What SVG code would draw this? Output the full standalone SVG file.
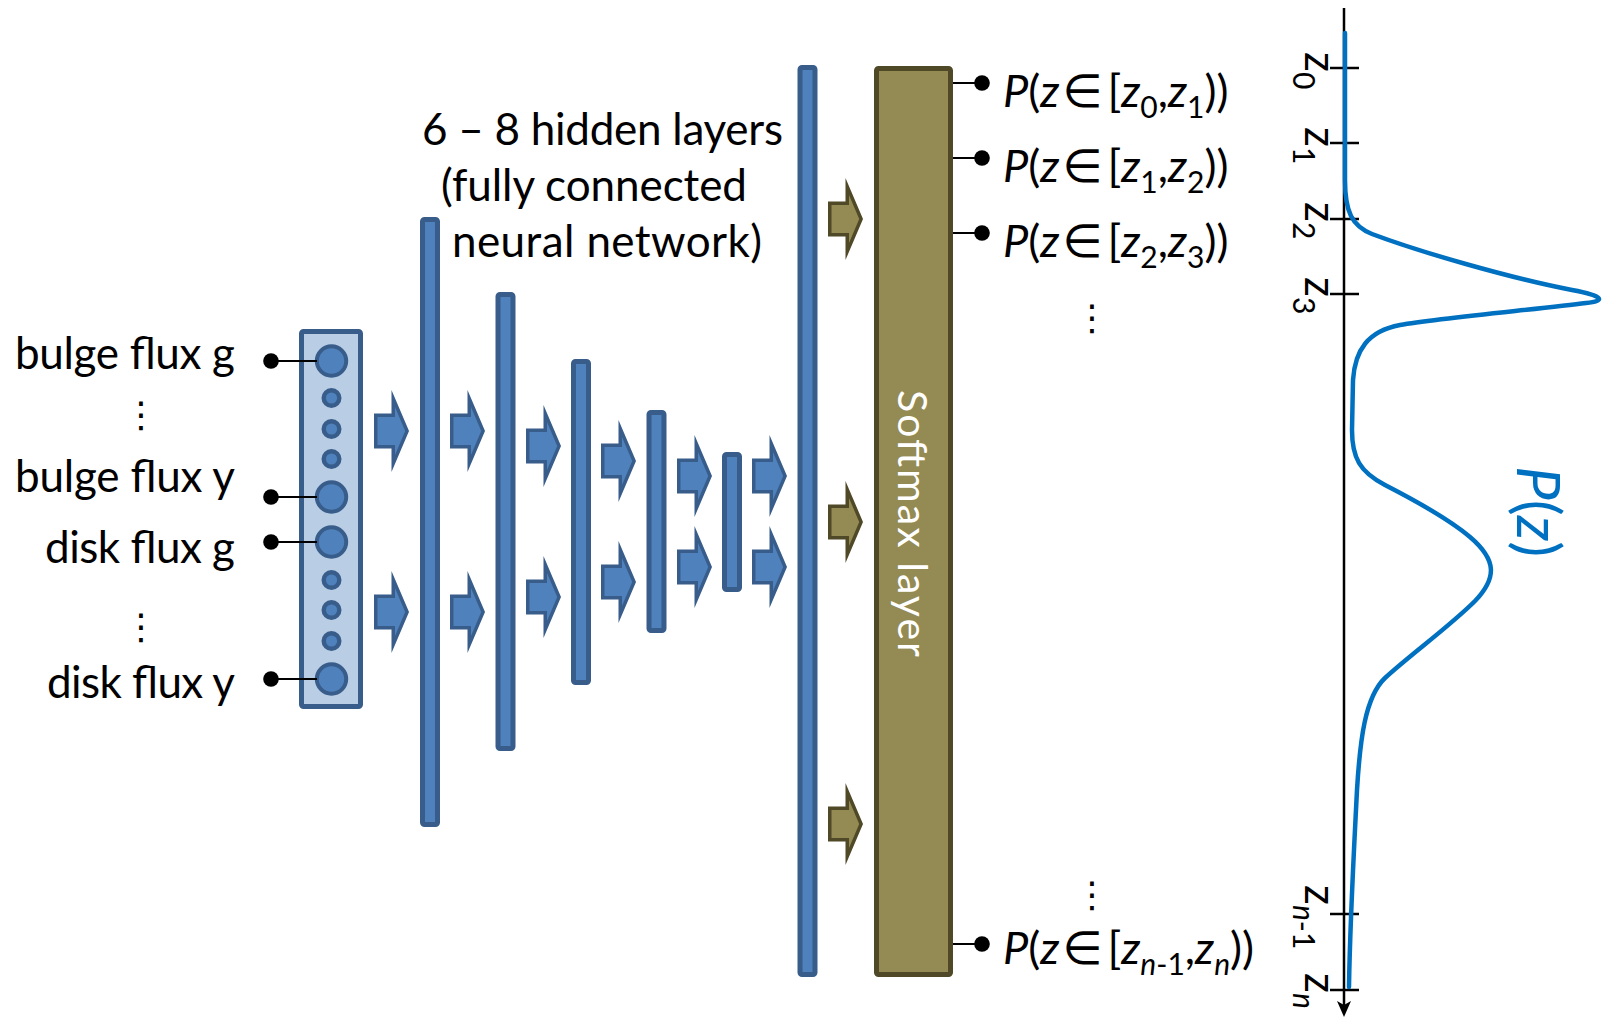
<svg xmlns="http://www.w3.org/2000/svg" width="1602" height="1017" viewBox="0 0 1602 1017">
  <style>
    .txt { font-family: Lato, "Open Sans", "DejaVu Sans", sans-serif; fill: #000; }
    .lbl { font-size: 44px; }
    .out { font-size: 45px; }
    .tick { font-size: 44px; }
    .i { font-style: italic; }
    .sub { font-size: 30px; }
    .sym { font-family: "DejaVu Sans", sans-serif; font-size: 46px; }
    .dots { font-family: "DejaVu Sans", sans-serif; font-size: 36px; text-anchor: middle; font-style: normal; }
    .bar { fill: #4F81BD; stroke: #385D8A; stroke-width: 5; }
    .node { fill: #4F81BD; stroke: #385D8A; stroke-width: 4; }
    .node-s { fill: #4F81BD; stroke: #385D8A; stroke-width: 4.4; }
    .flow-b { color: #385D8A; fill: #4F81BD; }
    .flow-o { color: #4F4928; fill: #948A54; }
    .wire { stroke: #000; stroke-width: 2; fill: none; }
    .axis { stroke: #000; stroke-width: 2.5; fill: none; }
    .pdf { stroke: #0070C0; stroke-width: 4.5; fill: none; stroke-linecap: round; stroke-linejoin: round; }
  </style>
  <defs>
    <!-- block arrow: dark outline shape (currentColor) with the body inset inside it.
         Left edge at x=0, centred on y=0. -->
    <g id="blk">
      <path d="M0,-17.5 H17.5 V-41 L35,0 L17.5,41 V17.5 H0 Z" fill="currentColor"/>
      <path d="M3.5,-14 H21 V-23.9 L31.2,0 L21,23.9 V14 H3.5 Z"/>
    </g>
  </defs>

  <!-- input features -->
  <g id="input-labels" class="txt lbl">
    <text x="235" y="369" text-anchor="end" textLength="220">bulge flux g</text>
    <text x="235" y="492" text-anchor="end" textLength="220">bulge flux y</text>
    <text x="235" y="563" text-anchor="end" textLength="190">disk flux g</text>
    <text x="235" y="698" text-anchor="end" textLength="188">disk flux y</text>
    <text class="dots" x="141" y="427">⋮</text>
    <text class="dots" x="141" y="639">⋮</text>
  </g>

  <g id="input-layer">
    <rect x="301.5" y="331.5" width="59" height="375" rx="2" fill="#B9CDE5" stroke="#385D8A" stroke-width="5"/>
    <circle class="node" cx="331.5" cy="361" r="14.7"/>
    <circle class="node-s" cx="331.5" cy="398" r="7.8"/>
    <circle class="node-s" cx="331.5" cy="429" r="7.8"/>
    <circle class="node-s" cx="331.5" cy="459" r="7.8"/>
    <circle class="node" cx="331.5" cy="497" r="14.7"/>
    <circle class="node" cx="331.5" cy="542" r="14.7"/>
    <circle class="node-s" cx="331.5" cy="580" r="7.8"/>
    <circle class="node-s" cx="331.5" cy="610" r="7.8"/>
    <circle class="node-s" cx="331.5" cy="641" r="7.8"/>
    <circle class="node" cx="331.5" cy="679" r="14.7"/>
  </g>

  <!-- hidden layers -->
  <g id="hidden-1"><rect class="bar" x="422.5" y="219.5" width="15" height="605" rx="2"/></g>
  <g id="hidden-2"><rect class="bar" x="498" y="294.5" width="15" height="454" rx="2"/></g>
  <g id="hidden-3"><rect class="bar" x="573.5" y="361.5" width="15" height="321" rx="2"/></g>
  <g id="hidden-4"><rect class="bar" x="649" y="412.5" width="15" height="218" rx="2"/></g>
  <g id="hidden-5"><rect class="bar" x="724.5" y="454.5" width="15" height="135" rx="2"/></g>
  <g id="hidden-6"><rect class="bar" x="800" y="67.5" width="15" height="907" rx="2"/></g>

  <g id="hidden-title" class="txt lbl">
    <text x="422" y="145" textLength="361">6 – 8 hidden layers</text>
    <text x="441" y="201" textLength="306">(fully connected</text>
    <text x="452" y="257" textLength="310">neural network)</text>
  </g>

  <!-- softmax output layer -->
  <g id="softmax">
    <rect x="876.5" y="68.5" width="74" height="906" rx="2" fill="#948A54" stroke="#4F4928" stroke-width="5"/>
    <text class="txt" transform="translate(898,390) rotate(90)" font-size="41" style="fill:#fff" textLength="267">Softmax layer</text>
  </g>

  <!-- flow arrows and wires -->
  <g id="connectors">
    <line class="wire" x1="271" y1="361" x2="317" y2="361"/>
    <line class="wire" x1="271" y1="497" x2="317" y2="497"/>
    <line class="wire" x1="271" y1="542" x2="317" y2="542"/>
    <line class="wire" x1="271" y1="679" x2="317" y2="679"/>
    <circle cx="271" cy="361" r="7.8"/>
    <circle cx="271" cy="497" r="7.8"/>
    <circle cx="271" cy="542" r="7.8"/>
    <circle cx="271" cy="679" r="7.8"/>

    <use href="#blk" class="flow-b" x="374" y="431"/>
    <use href="#blk" class="flow-b" x="374" y="612"/>
    <use href="#blk" class="flow-b" x="450" y="431"/>
    <use href="#blk" class="flow-b" x="450" y="612"/>
    <use href="#blk" class="flow-b" x="526" y="446"/>
    <use href="#blk" class="flow-b" x="526" y="597"/>
    <use href="#blk" class="flow-b" x="601" y="461"/>
    <use href="#blk" class="flow-b" x="601" y="582"/>
    <use href="#blk" class="flow-b" x="677" y="476"/>
    <use href="#blk" class="flow-b" x="677" y="567"/>
    <use href="#blk" class="flow-b" x="752" y="476"/>
    <use href="#blk" class="flow-b" x="752" y="567"/>
    <use href="#blk" class="flow-o" x="828" y="219"/>
    <use href="#blk" class="flow-o" x="828" y="522"/>
    <use href="#blk" class="flow-o" x="828" y="824"/>

    <line class="wire" x1="953" y1="83" x2="982" y2="83"/>
    <line class="wire" x1="953" y1="158" x2="982" y2="158"/>
    <line class="wire" x1="953" y1="233" x2="982" y2="233"/>
    <line class="wire" x1="953" y1="944" x2="982" y2="944"/>
    <circle cx="982" cy="83" r="7.8"/>
    <circle cx="982" cy="158" r="7.8"/>
    <circle cx="982" cy="233" r="7.8"/>
    <circle cx="982" cy="944" r="7.8"/>
  </g>

  <!-- bin probabilities -->
  <g id="outputs" class="txt out">
    <text x="1003" y="107"><tspan class="i">P</tspan>(<tspan class="i">z</tspan><tspan class="sym" dx="3">∈</tspan><tspan dx="5">[</tspan><tspan class="i">z</tspan><tspan class="sub" dy="11">0</tspan><tspan dy="-11">,</tspan><tspan class="i">z</tspan><tspan class="sub" dy="11">1</tspan><tspan dy="-11">))</tspan></text>
    <text x="1003" y="182"><tspan class="i">P</tspan>(<tspan class="i">z</tspan><tspan class="sym" dx="3">∈</tspan><tspan dx="5">[</tspan><tspan class="i">z</tspan><tspan class="sub" dy="11">1</tspan><tspan dy="-11">,</tspan><tspan class="i">z</tspan><tspan class="sub" dy="11">2</tspan><tspan dy="-11">))</tspan></text>
    <text x="1003" y="257"><tspan class="i">P</tspan>(<tspan class="i">z</tspan><tspan class="sym" dx="3">∈</tspan><tspan dx="5">[</tspan><tspan class="i">z</tspan><tspan class="sub" dy="11">2</tspan><tspan dy="-11">,</tspan><tspan class="i">z</tspan><tspan class="sub" dy="11">3</tspan><tspan dy="-11">))</tspan></text>
    <text class="dots" x="1092" y="330">⋮</text>
    <text class="dots" x="1092" y="907">⋮</text>
    <text x="1003" y="964"><tspan class="i">P</tspan>(<tspan class="i">z</tspan><tspan class="sym" dx="3">∈</tspan><tspan dx="5">[</tspan><tspan class="i">z</tspan><tspan class="sub" dy="11"><tspan class="i">n</tspan>-1</tspan><tspan dy="-11">,</tspan><tspan class="i">z</tspan><tspan class="sub i" dy="11">n</tspan><tspan dy="-11">))</tspan></text>
  </g>

  <!-- redshift axis with the predicted distribution -->
  <g id="pdf-chart">
    <line class="axis" x1="1344" y1="8" x2="1344" y2="1006"/>
    <path d="M1344,1017 L1337,1001 L1344,1005 L1351,1001 Z" fill="#000"/>
    <g class="axis">
      <line x1="1330" y1="68" x2="1359" y2="68"/>
      <line x1="1330" y1="143" x2="1359" y2="143"/>
      <line x1="1330" y1="219" x2="1359" y2="219"/>
      <line x1="1330" y1="294" x2="1359" y2="294"/>
      <line x1="1330" y1="914" x2="1359" y2="914"/>
      <line x1="1330" y1="990" x2="1359" y2="990"/>
    </g>
    <g class="txt tick">
      <text transform="translate(1305,52) rotate(90)">z<tspan class="sub" dy="12">0</tspan></text>
      <text transform="translate(1305,127) rotate(90)">z<tspan class="sub" dy="12">1</tspan></text>
      <text transform="translate(1305,202) rotate(90)">z<tspan class="sub" dy="12">2</tspan></text>
      <text transform="translate(1305,277) rotate(90)">z<tspan class="sub" dy="12">3</tspan></text>
      <text transform="translate(1305,885) rotate(90)">z<tspan class="sub" dy="12"><tspan class="i">n</tspan>-1</tspan></text>
      <text transform="translate(1305,973) rotate(90)">z<tspan class="sub i" dy="12">n</tspan></text>
    </g>
    <path class="pdf" d="M1345,33 L1345,180 C1345,212 1352,226 1372,234 C1420,252 1510,278 1572,290 C1604,296 1606,301 1586,303 C1540,309 1440,318 1400,325 C1368,331 1355,350 1353,380 L1352,430 C1352,458 1360,472 1385,485 C1420,503 1450,520 1470,537 C1497,560 1497,578 1475,601 C1450,626 1410,655 1385,678 C1365,697 1360,740 1357,790 C1354,850 1350,920 1349,987"/>
    <text class="txt" transform="translate(1517,466) rotate(90)" font-size="60" style="fill:#0070C0"><tspan class="i">P</tspan>(<tspan class="i">z</tspan>)</text>
  </g>
</svg>
